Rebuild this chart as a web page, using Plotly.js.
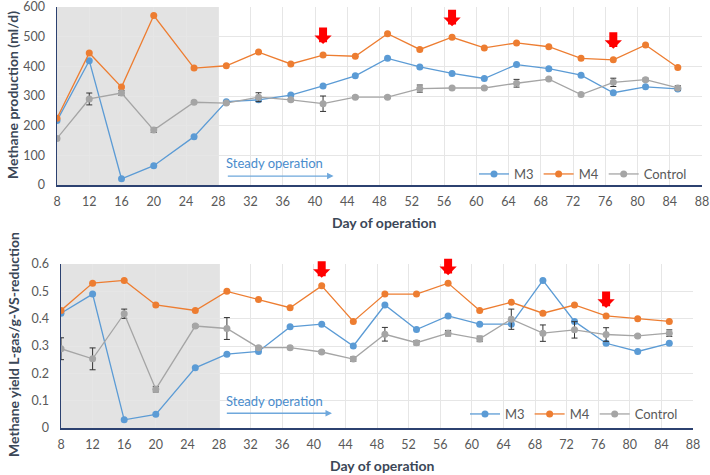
<!DOCTYPE html>
<html><head><meta charset="utf-8">
<script src="https://cdn.plot.ly/plotly-3.0.1.min.js"></script>
<style>html,body{margin:0;padding:0;background:#fff}#chart{width:710px;height:475px}</style>
</head><body><div id="chart"></div>
<script>
const days = [8,12,16,20,25,29,33,37,41,45,49,53,57,61,65,69,73,77,81,85];
const seriesNames = ['M3','M4','Control'];
const prodM3 = [217,419,21,65,163,281,287,303,334,368,427,398,376,359,406,392,370,311,331,324];
const prodM4 = [225,445,330,571,394,402,448,408,438,434,510,457,498,462,479,466,427,422,472,396];
const prodCtrl = [157,290,310,185,279,276,296,287,274,296,296,325,327,327,343,357,305,346,355,327];
const prodCtrlErr = [5,20,8,8,4,4,15,4,26,4,4,12,5,4,13,4,4,14,5,8];
const yieldM3 = [0.42,0.49,0.03,0.05,0.22,0.27,0.28,0.37,0.38,0.30,0.45,0.36,0.41,0.38,0.38,0.54,0.39,0.31,0.28,0.31];
const yieldM4 = [0.43,0.53,0.54,0.45,0.43,0.50,0.47,0.44,0.52,0.39,0.49,0.49,0.53,0.43,0.46,0.42,0.45,0.41,0.40,0.39];
const yieldCtrl = [0.29,0.253,0.418,0.142,0.373,0.364,0.294,0.294,0.278,0.252,0.343,0.312,0.347,0.326,0.398,0.347,0.359,0.342,0.337,0.347];
const yieldCtrlErr = [0.04,0.04,0.017,0.01,0.005,0.04,0.005,0.005,0.005,0.008,0.025,0.008,0.01,0.01,0.037,0.03,0.03,0.025,0.005,0.012];
const arrowDays = [41,57,77];
const startupEnd = 28;
const xTicks = [8,12,16,20,24,28,32,36,40,44,48,52,56,60,64,68,72,76,80,84,88];

const colors = {M3:'#5b9bd5', M4:'#ed7d31', Control:'#a5a5a5'};
const FONT = 'Lato, "Open Sans", sans-serif';

function mk(name, x, y, xa, ya, legend, err){
  const t = {type:'scatter', mode:'lines+markers', name, x, y, xaxis:xa, yaxis:ya, legend,
    line:{color:colors[name], width:1.3}, marker:{color:colors[name], size:7}};
  if(err){ t.error_y = {type:'data', array:err, visible:true, color:'#333', thickness:1, width:3}; }
  return t;
}

const data = [
  mk('M3', days, prodM3, 'x', 'y', 'legend'),
  mk('M4', days, prodM4, 'x', 'y', 'legend'),
  mk('Control', days, prodCtrl, 'x', 'y', 'legend', prodCtrlErr),
  mk('M3', days, yieldM3, 'x2', 'y2', 'legend2'),
  mk('M4', days, yieldM4, 'x2', 'y2', 'legend2'),
  mk('Control', days, yieldCtrl, 'x2', 'y2', 'legend2', yieldCtrlErr),
];

const axX = (dom, anchor) => ({domain:dom, anchor, range:[8,88], tickvals:xTicks, showgrid:true,
  gridcolor:'#e6e6e6', gridwidth:1, showline:true, linecolor:'#2c4170', linewidth:1.5,
  zeroline:false, ticks:'', tickfont:{family:FONT, size:12.5, color:'#595959'}, ticklabelstandoff:4,
  ticklabeloverflow:'allow', fixedrange:true});
const axY = (dom, anchor, range, dtick) => ({domain:dom, anchor, range, dtick, showgrid:true,
  gridcolor:'#e6e6e6', gridwidth:1, showline:true, linecolor:'#2c4170', linewidth:1.5,
  zeroline:false, ticks:'', tickfont:{family:FONT, size:12.5, color:'#595959'}, ticklabelstandoff:8,
  ticklabeloverflow:'allow', fixedrange:true});

const shapes = [
  {type:'rect', xref:'x', yref:'y', x0:days[0], x1:startupEnd, y0:0, y1:600, fillcolor:'rgba(0,0,0,0.11)', line:{width:0}, layer:'below'},
  {type:'rect', xref:'x2', yref:'y2', x0:days[0], x1:startupEnd, y0:0, y1:0.6, fillcolor:'rgba(0,0,0,0.11)', line:{width:0}, layer:'below'},
];

const titleFont = {family:FONT, size:14, color:'#3b4757', weight:'bold'};
const annotations = [
  {xref:'paper', yref:'paper', x:13/710, y:1-95/475, xanchor:'center', yanchor:'middle', text:'<b>Methane production (ml/d)</b>', textangle:-90, showarrow:false, font:titleFont},
  {xref:'paper', yref:'paper', x:13/710, y:1-345/475, xanchor:'center', yanchor:'middle', text:'<b>Methane yield L-gas/g-VS-reduction</b>', textangle:-90, showarrow:false, font:titleFont},
  {xref:'paper', yref:'paper', x:384/710, y:1-222/475, xanchor:'center', yanchor:'middle', text:'<b>Day of operation</b>', showarrow:false, font:titleFont},
  {xref:'paper', yref:'paper', x:382/710, y:1-465/475, xanchor:'center', yanchor:'middle', text:'<b>Day of operation</b>', showarrow:false, font:titleFont},
  {xref:'x', yref:'y', x:35, y:74, text:'Steady operation', showarrow:false, font:{family:FONT, size:13, color:'#4a8ccc'}},
  {xref:'x', yref:'y', x:42.3, y:30, ax:29, ay:30, axref:'x', ayref:'y', text:'', showarrow:true, arrowhead:2, arrowsize:1, arrowwidth:1.3, arrowcolor:'#6fa8dc'},
  {xref:'x2', yref:'y2', x:35, y:0.098, text:'Steady operation', showarrow:false, font:{family:FONT, size:13, color:'#4a8ccc'}},
  {xref:'x2', yref:'y2', x:42.3, y:0.054, ax:28.8, ay:0.054, axref:'x2', ayref:'y2', text:'', showarrow:true, arrowhead:2, arrowsize:1, arrowwidth:1.3, arrowcolor:'#6fa8dc'},
];
function addArrows(xr, yr, vals, gap){
  arrowDays.forEach(d => {
    const v = vals[days.indexOf(d)];
    annotations.push({xref:xr, yref:yr, x:d, y:v, ax:0, ay:-(gap+18), text:'', showarrow:true,
      arrowhead:1, arrowsize:0.36, arrowwidth:8, arrowcolor:'#ff0000', standoff:gap});
  });
}
addArrows('x','y',prodM4,11);
addArrows('x2','y2',yieldM4,8);

const legendBase = {orientation:'h', xanchor:'right', yanchor:'middle', bgcolor:'rgba(0,0,0,0)',
  font:{family:FONT, size:13, color:'#595959'}, itemwidth:30, traceorder:'normal'};

const layout = {
  width:710, height:475, margin:{l:0,r:0,t:0,b:0}, paper_bgcolor:'#fff', plot_bgcolor:'#fff',
  font:{family:FONT},
  xaxis: axX([57/710, 702/710], 'y'),
  yaxis: axY([1-185/475, 1-7/475], 'x', [0,600], 100),
  xaxis2: axX([61/710, 693/710], 'y2'),
  yaxis2: axY([1-428/475, 1-264/475], 'x2', [0,0.6], 0.1),
  legend: Object.assign({}, legendBase, {x:692/710, y:1-174/475}),
  legend2: Object.assign({}, legendBase, {x:683/710, y:1-414/475}),
  shapes, annotations, showlegend:true
};

Plotly.newPlot('chart', data, layout, {staticPlot:true, displayModeBar:false});
</script></body></html>
